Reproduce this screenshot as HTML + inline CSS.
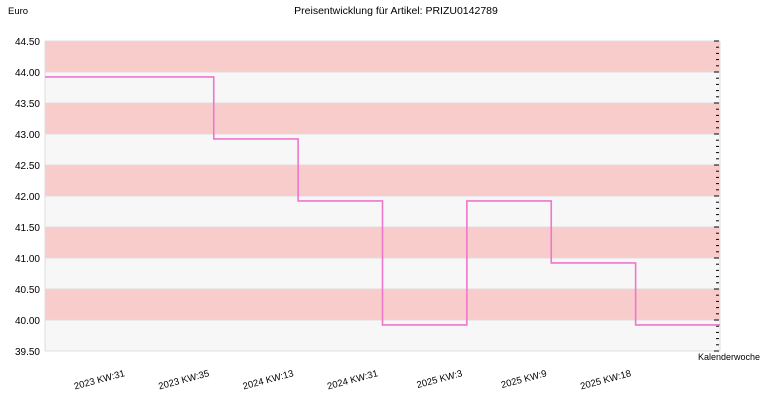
<!DOCTYPE html>
<html><head><meta charset="utf-8"><style>
body{margin:0;background:#fff;font-family:"Liberation Sans",sans-serif}
svg text{font-family:"Liberation Sans",sans-serif;font-size:10.5px;fill:#000}
</style></head><body>
<svg id="chart" width="770" height="400" viewBox="0 0 770 400">
<text x="396" y="14" text-anchor="middle">Preisentwicklung für Artikel: PRIZU0142789</text>
<text x="8" y="14" style="font-size:9.5px">Euro</text>
<text x="698" y="360" style="font-size:9px">Kalenderwoche</text>
<g id="bands"></g><g id="yticks"></g><g id="xlabels"></g><g id="series"></g>
</svg>
<script>
const categories=["2023 KW:31","2023 KW:35","2024 KW:13","2024 KW:31","2025 KW:3","2025 KW:9","2025 KW:18"];
const prices=[43.92,42.92,41.92,39.92,41.92,40.92,39.92];
const yTicks=[39.5,40,40.5,41,41.5,42,42.5,43,43.5,44,44.5];
const L=45,R=720,T=41,B=351,yMin=39.5,yMax=44.5;
const ns="http://www.w3.org/2000/svg";
function y(v){return B-(v-yMin)/(yMax-yMin)*(B-T);}
const step=(R-L)/(categories.length+1);
function x(i){return L+(i+1)*step;}
function mk(t,a,p){const e=document.createElementNS(ns,t);for(const k in a)e.setAttribute(k,a[k]);(p||document.getElementById('chart')).appendChild(e);return e;}
const bands=document.getElementById('bands'),yt=document.getElementById('yticks'),xl=document.getElementById('xlabels'),sr=document.getElementById('series');
for(let i=0;i<yTicks.length-1;i++){
 const r=mk('rect',{x:L,y:y(yTicks[i+1]),width:R-L,height:y(yTicks[i])-y(yTicks[i+1]),fill:i%2?'#f9cccc':'#f7f7f7'},bands);
 
 
}
yTicks.forEach(v=>{
 const l=mk('line',{x1:L,x2:R,y1:y(v),y2:y(v),stroke:'#e0dcdc','stroke-width':1},bands);
 
 
 const t=mk('text',{x:40,y:y(v)+4,'text-anchor':'end',style:'font-size:10px'},yt);t.textContent=v.toFixed(2);
 
 
});
mk('line',{x1:L,x2:L,y1:T,y2:B,stroke:'#ddd'},bands);
mk('line',{x1:R,x2:R,y1:T,y2:B,stroke:'#ddd'},bands);
for(let k=0;k<=50;k++){const v=yMin+k*0.1;const yy=y(v);mk('line',{x1:k%5?716:714,x2:719,y1:yy,y2:yy,stroke:'#000'},yt);}
categories.forEach((c,i)=>{
 const t=mk('text',{x:x(i)-4,y:376,'text-anchor':'end',transform:`rotate(-15 ${x(i)-4} 376)`,style:'font-size:9.5px'},xl);
 t.textContent=c;
 
 
});
let d=`M${L},${y(prices[0])}`;
prices.forEach((p,i)=>{d+=` H${x(i)} V${y(p)}`;});
d+=` H${R}`;
const pth=mk('path',{d:d,fill:'none',stroke:'#ee77cc','stroke-width':1.6},sr);


</script>
</body></html>
